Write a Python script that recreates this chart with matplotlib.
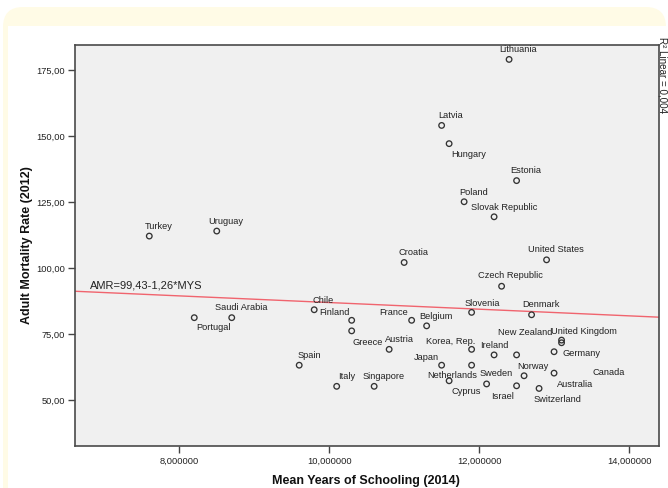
import matplotlib
matplotlib.use('Agg')
import matplotlib.pyplot as plt
import numpy as np
from matplotlib.patches import FancyBboxPatch, Rectangle
from matplotlib.transforms import IdentityTransform
from matplotlib.ticker import FuncFormatter, FixedLocator

plt.rcParams['font.family'] = ['Liberation Sans', 'DejaVu Sans']

# ---------------- data ----------------
countries = ["Lithuania", "Latvia", "Hungary", "Estonia", "Poland", "Slovak Republic",
             "Croatia", "United States", "Czech Republic", "Turkey", "Uruguay",
             "Saudi Arabia", "Portugal", "Chile", "Spain", "Finland", "Greece",
             "Austria", "France", "Belgium", "Italy", "Singapore", "Japan",
             "Korea, Rep.", "Netherlands", "Cyprus", "Slovenia", "Denmark",
             "Ireland", "New Zealand", "United Kingdom", "Germany", "Canada",
             "Australia", "Switzerland", "Norway", "Israel", "Sweden"]
mys = [12.4, 11.5, 11.6, 12.5, 11.8, 12.2,
       11.0, 12.9, 12.3, 7.6, 8.5,
       8.7, 8.2, 9.8, 9.6, 10.3, 10.3,
       10.8, 11.1, 11.3, 10.1, 10.6, 11.5,
       11.9, 11.9, 11.6, 11.9, 12.7,
       12.2, 12.5, 13.1, 13.1, 13.0,
       13.0, 12.8, 12.6, 12.5, 12.1]
amr = [178.9, 153.9, 147.0, 133.0, 125.0, 119.3,
       102.0, 103.0, 93.0, 112.0, 113.9,
       81.1, 81.1, 84.1, 63.1, 80.1, 76.1,
       69.1, 80.1, 78.0, 55.1, 55.1, 63.1,
       69.1, 63.1, 57.2, 83.1, 82.2,
       67.0, 67.0, 72.6, 71.6, 68.2,
       60.1, 54.3, 59.1, 55.3, 56.0]

x_ticks = [8, 10, 12, 14]
y_ticks = [50, 75, 100, 125, 150, 175]

intercept = 99.43
slope = -1.26
r_squared = 0.004

x_label = "Mean Years of Schooling (2014)"
y_label = "Adult Mortality Rate (2012)"

# label placement (offset of label centre from its point, in pixels)
label_offsets = {
    "Lithuania": (9.4, 11), "Latvia": (9.3, 10.6), "Hungary": (19.7, -10.3),
    "Estonia": (9.6, 11.4), "Poland": (9.4, 10.7), "Slovak Republic": (9.7, 10.4),
    "Croatia": (9.7, 11), "United States": (9, 11), "Czech Republic": (9.3, 11.3),
    "Turkey": (9.3, 10.3), "Uruguay": (9.4, 10.7), "Saudi Arabia": (10, 11.4),
    "Portugal": (19.6, -8.6), "Chile": (9.3, 10.7), "Spain": (10, 11),
    "Finland": (-17.4, 9), "Greece": (16.3, -10.3), "Austria": (10, 10.6),
    "France": (-17.7, 9.3), "Belgium": (9.3, 10.7), "Italy": (10, 10.6),
    "Singapore": (9.4, 10.6), "Japan": (-15.7, 9), "Korea, Rep.": (-21, 9.3),
    "Netherlands": (-19.4, -9.7), "Cyprus": (17.4, -9.3), "Slovenia": (10.6, 10.3),
    "Denmark": (9.3, 11.4), "Ireland": (0, 10.4), "New Zealand": (9, 23.4),
    "United Kingdom": (22.6, 10), "Germany": (20.4, -9.4), "Canada": (55, -19.3),
    "Australia": (21, -10), "Switzerland": (18, -10), "Norway": (9, 10),
    "Israel": (-14, -10), "Sweden": (9.3, 11),
}

# ---------------- figure ----------------
W, H = 668, 489
fig = plt.figure(figsize=(W / 100, H / 100), dpi=100)
fig.patch.set_facecolor('white')

ident = IdentityTransform()
frame = FancyBboxPatch((3, -30), 663, H - 8 + 30,
                       boxstyle="round,pad=0,rounding_size=20",
                       transform=ident, facecolor='#FFFBE6', edgecolor='none', zorder=-10)
fig.add_artist(frame)
inner = Rectangle((8, -10), W, H - 27 + 10, transform=ident,
                  facecolor='white', edgecolor='none', zorder=-9)
fig.add_artist(inner)

ax_l, ax_r, ax_t, ax_b = 75, 659, 46, 447
ax = fig.add_axes([ax_l / W, 1 - ax_b / H, (ax_r - ax_l) / W, (ax_b - ax_t) / H])
ax.set_facecolor('#F0F0F0')

xmin, xmax = 6.609, 14.4
ymin, ymax = 32.5, 184.36
ax.set_xlim(xmin, xmax)
ax.set_ylim(ymin, ymax)

# regression line
xs = np.array([xmin, xmax])
ax.plot(xs, intercept + slope * xs, color='#F0646E', lw=1.0, zorder=2)

ax.scatter(mys, amr, s=16, facecolors='none', edgecolors='#333333',
           linewidths=0.95, zorder=3)

for name, x, y in zip(countries, mys, amr):
    dx, dy = label_offsets[name]
    ax.annotate(name, xy=(x, y), xytext=(dx, dy), textcoords='offset pixels',
                ha='center', va='center', fontsize=6.7, color='#222222', zorder=4)

eq = f"AMR={intercept:.2f}-{abs(slope):.2f}*MYS".replace('.', ',')
ax.text(6.804, 92.7, eq, ha='left', va='baseline', fontsize=8, color='#222222')

ax.xaxis.set_major_locator(FixedLocator(x_ticks))
ax.yaxis.set_major_locator(FixedLocator(y_ticks))
ax.xaxis.set_major_formatter(FuncFormatter(lambda v, p: f"{v:.6f}".replace('.', ',')))
ax.yaxis.set_major_formatter(FuncFormatter(lambda v, p: f"{v:.2f}".replace('.', ',')))
ax.tick_params(axis='both', length=5, width=1, color='#444444', labelsize=6.7,
               labelcolor='#222222', pad=2)

for s in ax.spines.values():
    s.set_color('#4a4a4a')
    s.set_linewidth(1.2)

fig.text(366 / W, 1 - 481 / H, x_label, ha='center', va='center',
         fontsize=9, fontweight='bold', color='#111111')
fig.text(27 / W, 1 - 245 / H, y_label, ha='center', va='center', rotation=90,
         fontsize=9, fontweight='bold', color='#111111')

r2_txt = f"R\u00b2 Linear = {r_squared:.3f}".replace('.', ',')
fig.text(663 / W, 1 - 37 / H, r2_txt, ha='center', va='top', rotation=270,
         fontsize=7.1, color='#222222')

fig.savefig('out.png', dpi=100)
